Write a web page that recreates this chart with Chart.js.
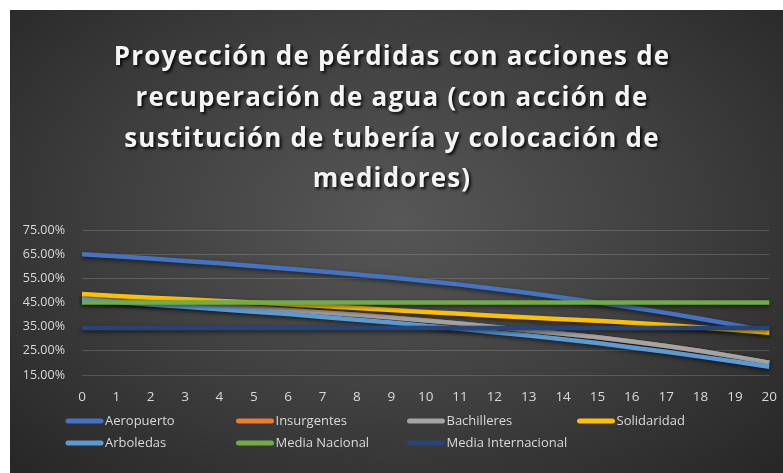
<!DOCTYPE html>
<html>
<head>
<meta charset="utf-8">
<script src="https://cdn.jsdelivr.net/npm/chart.js@4.4.1/dist/chart.umd.min.js"></script>
<style>
  html, body { margin: 0; padding: 0; background: #ffffff; }
  #panel {
    position: absolute; left: 10px; top: 10px; width: 773px; height: 463px;
    background: radial-gradient(ellipse at 50% 45%, #575757 0%, #404040 50%, #262626 100%);
  }
  canvas { display: block; }
</style>
</head>
<body>
<div id="panel"><canvas id="perdidas"></canvas></div>
<script>
// Años de proyección
const periodos = ['0','1','2','3','4','5','6','7','8','9','10','11','12','13','14','15','16','17','18','19','20'];

// Porcentaje de pérdidas por sector (%)
const aeropuerto = [65.0, 64.1, 63.2, 62.2, 61.2, 60.1, 59.0, 57.8, 56.6, 55.3, 53.9, 52.4, 50.7, 48.9, 47.0, 45.0, 42.9, 40.7, 38.3, 35.7, 33.0];
const insurgentes = [47.0, 46.2, 45.3, 44.5, 43.7, 42.8, 41.9, 40.9, 39.9, 38.8, 37.6, 36.3, 34.9, 33.4, 32.1, 30.6, 28.9, 27.0, 24.9, 22.6, 20.1];
const bachilleres = [47.0, 46.2, 45.3, 44.5, 43.7, 42.8, 41.9, 40.9, 39.9, 38.8, 37.6, 36.3, 34.9, 33.4, 32.1, 30.6, 28.9, 27.0, 24.9, 22.6, 20.1];
const solidaridad = [48.5, 47.7, 47.0, 46.3, 45.6, 45.0, 44.3, 43.5, 42.7, 41.9, 41.1, 40.3, 39.5, 38.8, 38.1, 37.4, 36.6, 35.7, 34.7, 33.6, 32.5];
const arboledas = [46.2, 45.2, 44.2, 43.2, 42.2, 41.2, 40.2, 39.0, 37.9, 36.7, 35.4, 34.1, 32.7, 31.3, 29.8, 28.2, 26.4, 24.6, 22.6, 20.6, 18.4];
const mediaNacional = [45, 45, 45, 45, 45, 45, 45, 45, 45, 45, 45, 45, 45, 45, 45, 45, 45, 45, 45, 45, 45];
const mediaInternacional = [34.5, 34.5, 34.5, 34.5, 34.5, 34.5, 34.5, 34.5, 34.5, 34.5, 34.5, 34.5, 34.5, 34.5, 34.5, 34.5, 34.5, 34.5, 34.5, 34.5, 34.5];

const series = [
  { label: 'Aeropuerto', data: aeropuerto, color: '#4472C4' },
  { label: 'Insurgentes', data: insurgentes, color: '#ED7D31' },
  { label: 'Bachilleres', data: bachilleres, color: '#A5A5A5' },
  { label: 'Solidaridad', data: solidaridad, color: '#FFC000' },
  { label: 'Arboledas', data: arboledas, color: '#5B9BD5' },
  { label: 'Media Nacional', data: mediaNacional, color: '#70AD47' },
  { label: 'Media Internacional', data: mediaInternacional, color: '#264478' }
];

const titulo = [
  'Proyección de pérdidas con acciones de',
  'recuperación de agua (con acción de',
  'sustitución de tubería y colocación de',
  'medidores)'
];

const FONT = '"Open Sans", "DejaVu Sans", sans-serif';
const TEXT_COLOR = '#d9d9d9';

Chart.defaults.font.family = FONT;
Chart.defaults.color = TEXT_COLOR;

// Title drawn by hand so it can carry a drop shadow
const shadowTitle = {
  id: 'shadowTitle',
  afterDraw(chart) {
    const ctx = chart.ctx;
    ctx.save();
    ctx.font = 'bold 26px ' + FONT;
    ctx.letterSpacing = '1.2px';
    ctx.fillStyle = '#f4f4f4';
    ctx.textAlign = 'center';
    ctx.textBaseline = 'middle';
    ctx.shadowColor = 'rgba(0, 0, 0, 0.85)';
    ctx.shadowBlur = 3;
    ctx.shadowOffsetX = 2;
    ctx.shadowOffsetY = 2;
    const rows = [48, 89, 130, 170];
    titulo.forEach((line, i) => ctx.fillText(line, 382, rows[i]));
    ctx.restore();
  }
};

// Soft shadow under the series lines
const lineShadow = {
  id: 'lineShadow',
  beforeDatasetsDraw(chart) {
    const ctx = chart.ctx;
    ctx.save();
    ctx.shadowColor = 'rgba(0, 0, 0, 0.55)';
    ctx.shadowBlur = 4;
    ctx.shadowOffsetY = 2;
  },
  afterDatasetsDraw(chart) {
    chart.ctx.restore();
  }
};

// Legend laid out on a fixed column grid, four entries per row
const gridLegend = {
  id: 'gridLegend',
  afterDraw(chart) {
    const ctx = chart.ctx;
    const colX = [56, 226.5, 397.5, 567.5];
    const rowY = [411, 433];
    ctx.save();
    ctx.font = '13px ' + FONT;
    ctx.textBaseline = 'middle';
    ctx.textAlign = 'left';
    chart.data.datasets.forEach((ds, i) => {
      const x = colX[i % 4];
      const y = rowY[Math.floor(i / 4)];
      ctx.strokeStyle = ds.borderColor;
      ctx.lineWidth = 5;
      ctx.lineCap = 'round';
      ctx.beginPath();
      ctx.moveTo(x + 2, y);
      ctx.lineTo(x + 35, y);
      ctx.stroke();
      ctx.fillStyle = TEXT_COLOR;
      ctx.fillText(ds.label, x + 39, y);
    });
    ctx.restore();
  }
};

const ctx = document.getElementById('perdidas').getContext('2d');

new Chart(ctx, {
  type: 'line',
  data: {
    labels: periodos,
    datasets: series.map((s, i) => ({
      label: s.label,
      data: s.data,
      borderColor: s.color,
      backgroundColor: s.color,
      borderWidth: 4.5,
      pointRadius: 0,
      tension: 0,
      fill: false,
      clip: false,
      order: series.length - i   // later series on top
    }))
  },
  options: {
    responsive: true,
    maintainAspectRatio: false,
    animation: false,
    layout: {
      padding: { left: 10, right: 12, top: 220, bottom: 68 }
    },
    plugins: {
      legend: { display: false },
      title: { display: false },
      tooltip: { enabled: false }
    },
    scales: {
      x: {
        grid: { display: false },
        border: { display: false },
        ticks: {
          padding: 6,
          maxRotation: 0,
          autoSkip: false,
          font: { size: 13.5 }
        },
        afterFit(scale) { scale.height = 30; }
      },
      y: {
        min: 15,
        max: 75,
        grid: {
          color: 'rgba(200, 200, 200, 0.22)',
          lineWidth: 1,
          drawTicks: false
        },
        border: { display: false },
        ticks: {
          stepSize: 10,
          padding: 17,
          font: { size: 12.5 },
          callback: v => v.toFixed(2) + '%'
        },
        afterFit(scale) { scale.width = 62; }
      }
    }
  },
  plugins: [lineShadow, shadowTitle, gridLegend]
});
</script>
</body>
</html>
